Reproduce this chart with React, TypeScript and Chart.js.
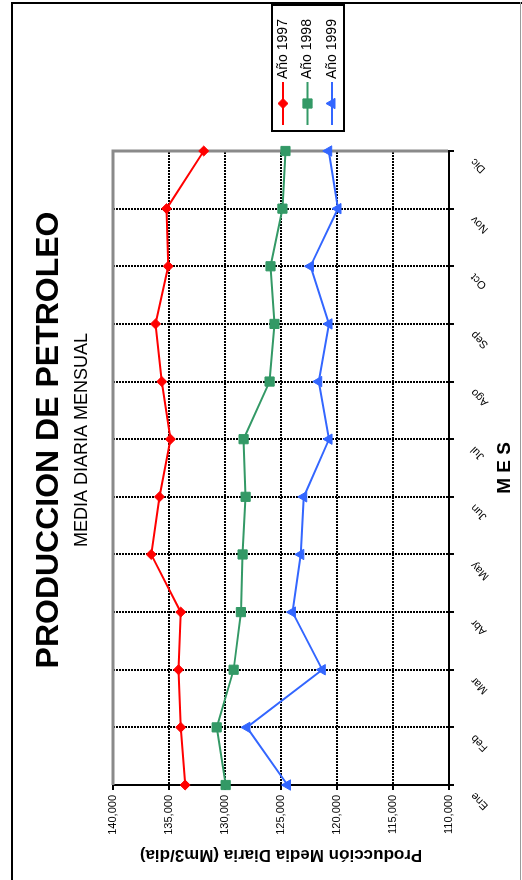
import React, { useEffect, useRef } from 'react';
import { Chart, registerables } from 'chart.js';
import { drawPoint } from 'chart.js/helpers';

Chart.register(...registerables);

// ---- data ----
const MONTHS = ['Ene', 'Feb', 'Mar', 'Abr', 'May', 'Jun', 'Jul', 'Ago', 'Sep', 'Oct', 'Nov', 'Dic'];
const SERIES_LABELS = ['Año 1997', 'Año 1998', 'Año 1999'];
const PROD_1997 = [133560, 133950, 134150, 133950, 136590, 135850, 134870, 135640, 136200, 135070, 135220, 131900];
const PROD_1998 = [129940, 130740, 129230, 128580, 128430, 128160, 128340, 126020, 125580, 125935, 124870, 124600];
const PROD_1999 = [124420, 128040, 121310, 123980, 123230, 122970, 120710, 121630, 120710, 122370, 119910, 120740];
const Y_MIN = 110000;
const Y_MAX = 140000;
const Y_STEP = 5000;

const TITLE = 'PRODUCCION DE PETROLEO';
const SUBTITLE = 'MEDIA DIARIA MENSUAL';
const Y_TITLE = 'Producción Media Diaria (Mm3/dia)';
const X_TITLE = 'M E S';

// ---- styles ----
const FONT = "'Liberation Sans', Arial, Helvetica, sans-serif";
const RED = '#FF0000';
const GREEN = '#339966';
const BLUE = '#3366FF';
const CW = 880;
const CH = 522;

const framePlugin = {
  id: 'outerFrame',
  beforeDraw(chart: any) {
    const { ctx, width, height } = chart;
    ctx.save();
    ctx.fillStyle = '#ffffff';
    ctx.fillRect(0, 0, width, height);
    ctx.strokeStyle = '#000';
    ctx.lineWidth = 2;
    ctx.beginPath();
    ctx.moveTo(0, 12);
    ctx.lineTo(878, 12);
    ctx.moveTo(877, 11);
    ctx.lineTo(877, height);
    ctx.stroke();
    ctx.strokeStyle = '#9a9a9a';
    ctx.lineWidth = 1;
    ctx.beginPath();
    ctx.moveTo(0, 520.5);
    ctx.lineTo(878, 520.5);
    ctx.stroke();
    ctx.restore();
  },
};

const plotBorderPlugin = {
  id: 'plotBorder',
  beforeDatasetsDraw(chart: any) {
    const { ctx, chartArea } = chart;
    const { left, right, top, bottom } = chartArea;
    ctx.save();
    ctx.strokeStyle = '#8a8a8a';
    ctx.lineWidth = 3;
    ctx.beginPath();
    ctx.moveTo(left, top);
    ctx.lineTo(right, top);
    ctx.lineTo(right, bottom - 1);
    ctx.stroke();
    ctx.restore();
  },
};

const legendPlugin = {
  id: 'boxLegend',
  afterDraw(chart: any) {
    const { ctx } = chart;
    const boxX = 749;
    const boxY = 272;
    const boxW = 126;
    const boxH = 72;
    ctx.save();
    ctx.fillStyle = '#fff';
    ctx.fillRect(boxX, boxY, boxW, boxH);
    ctx.strokeStyle = '#000';
    ctx.lineWidth = 2;
    ctx.strokeRect(boxX, boxY, boxW, boxH);
    const rowY = [283, 307.5, 332];
    chart.data.datasets.forEach((ds: any, i: number) => {
      const y = rowY[i];
      ctx.strokeStyle = ds.borderColor;
      ctx.lineWidth = 2;
      ctx.beginPath();
      ctx.moveTo(755, y);
      ctx.lineTo(798, y);
      ctx.stroke();
      ctx.fillStyle = ds.pointBackgroundColor;
      ctx.strokeStyle = ds.pointBorderColor;
      ctx.lineWidth = 1;
      drawPoint(ctx, { pointStyle: ds.pointStyle, radius: ds.pointRadius, rotation: 0, borderWidth: 1 }, 776.5, y);
      ctx.fillStyle = '#000';
      ctx.font = `14px ${FONT}`;
      ctx.textAlign = 'left';
      ctx.textBaseline = 'middle';
      ctx.fillText(ds.label, 801, y);
    });
    ctx.restore();
  },
};

const gridCommon = {
  color: '#000',
  lineWidth: 2,
  drawTicks: true,
  tickLength: 5,
  tickColor: '#000',
  tickWidth: 2,
  tickBorderDash: [],
  offset: false,
};

export default function App() {
  const canvasRef = useRef<HTMLCanvasElement | null>(null);

  useEffect(() => {
    const canvas = canvasRef.current;
    if (!canvas) return;
    const chart = new Chart(canvas, {
      type: 'line',
      data: {
        labels: MONTHS,
        datasets: [
          {
            label: SERIES_LABELS[0],
            data: PROD_1997,
            borderColor: RED,
            backgroundColor: RED,
            pointBackgroundColor: RED,
            pointBorderColor: RED,
            pointStyle: 'rectRot',
            pointRadius: 5,
            pointBorderWidth: 1,
            borderWidth: 2,
            tension: 0,
          },
          {
            label: SERIES_LABELS[1],
            data: PROD_1998,
            borderColor: GREEN,
            backgroundColor: GREEN,
            pointBackgroundColor: GREEN,
            pointBorderColor: GREEN,
            pointStyle: 'rect',
            pointRadius: 6.5,
            pointBorderWidth: 1,
            borderWidth: 2,
            tension: 0,
          },
          {
            label: SERIES_LABELS[2],
            data: PROD_1999,
            borderColor: BLUE,
            backgroundColor: BLUE,
            pointBackgroundColor: BLUE,
            pointBorderColor: BLUE,
            pointStyle: 'triangle',
            pointRadius: 6,
            pointBorderWidth: 1,
            borderWidth: 2,
            tension: 0,
          },
        ],
      },
      options: {
        responsive: false,
        maintainAspectRatio: false,
        animation: false,
        devicePixelRatio: 1,
        layout: { padding: { left: 0, right: 0, top: 0, bottom: 0 } },
        plugins: {
          legend: { display: false },
          tooltip: { enabled: false },
          title: {
            display: true,
            text: TITLE,
            color: '#000',
            font: { family: FONT, size: 32, weight: 'bold' },
            padding: { top: 30, bottom: 0 },
          },
          subtitle: {
            display: true,
            text: SUBTITLE,
            color: '#000',
            font: { family: FONT, size: 18, weight: 'normal' },
            padding: { top: 3, bottom: 20 },
          },
        },
        scales: {
          x: {
            type: 'category',
            offset: false,
            grid: gridCommon,
            border: { display: true, color: '#000', width: 2, dash: [2, 1] },
            ticks: {
              color: '#000',
              font: { family: FONT, size: 11 },
              minRotation: 45,
              maxRotation: 45,
              padding: 14,
              labelOffset: -9,
              autoSkip: false,
            },
            title: {
              display: true,
              text: X_TITLE,
              color: '#000',
              font: { family: FONT, size: 19, weight: 'bold' },
              padding: { top: 0, bottom: 6 },
            },
            afterFit: (s: any) => {
              s.height = 73;
            },
          },
          y: {
            min: Y_MIN,
            max: Y_MAX,
            grid: gridCommon,
            border: { display: true, color: '#000', width: 2, dash: [2, 1] },
            ticks: {
              stepSize: Y_STEP,
              color: '#000',
              font: { family: FONT, size: 11 },
              padding: 5,
              callback: (v: any) => Number(v).toLocaleString('en-US'),
            },
            title: {
              display: true,
              text: Y_TITLE,
              color: '#000',
              font: { family: FONT, size: 17, weight: 'bold' },
              padding: { top: 15, bottom: 0 },
            },
            afterFit: (s: any) => {
              s.width = 95;
            },
          },
          legendSpace: {
            type: 'linear',
            position: 'right',
            display: true,
            grid: { display: false, drawTicks: false },
            border: { display: false },
            ticks: { display: false },
            afterFit: (s: any) => {
              s.width = 151;
            },
          },
        },
      },
      plugins: [framePlugin, plotBorderPlugin, legendPlugin],
    } as any);
    return () => chart.destroy();
  }, []);

  return (
    <div
      style={{
        position: 'fixed',
        left: 0,
        top: 0,
        width: CH,
        height: CW,
        overflow: 'hidden',
        background: '#fff',
      }}
    >
      <div
        style={{
          position: 'absolute',
          left: 0,
          top: 0,
          width: CW,
          height: CH,
          transformOrigin: '0 0',
          transform: `translateY(${CW}px) rotate(-90deg)`,
        }}
      >
        <canvas ref={canvasRef} width={CW} height={CH} style={{ width: CW, height: CH, display: 'block' }} />
      </div>
    </div>
  );
}
